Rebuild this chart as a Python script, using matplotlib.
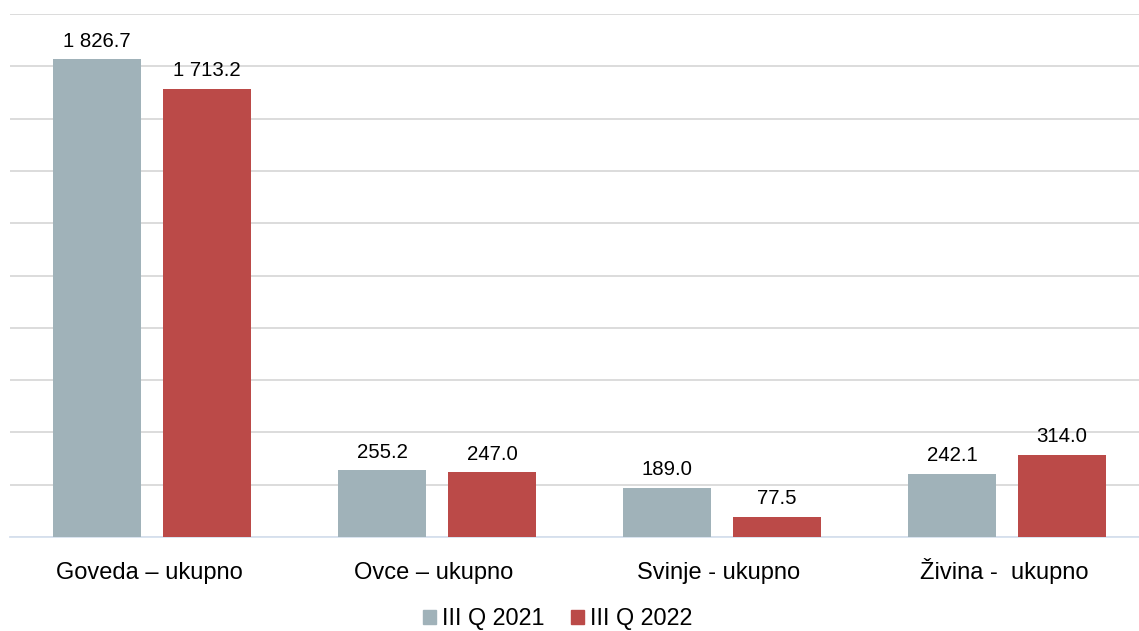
import numpy as np
import matplotlib.pyplot as plt
from matplotlib.patches import Patch
import matplotlib.transforms as mtransforms

plt.rcParams['font.family'] = ['Liberation Sans', 'DejaVu Sans']

# Data
categories = ['Goveda – ukupno', 'Ovce – ukupno', 'Svinje - ukupno', 'Živina -  ukupno']
series_names = ['III Q 2021', 'III Q 2022']
values_2021 = [1826.7, 255.2, 189.0, 242.1]
values_2022 = [1713.2, 247.0, 77.5, 314.0]
colors = ['#a0b2b9', '#bb4a48']


def fmt(v):
    # thousands separated by a space, one decimal
    return f"{v:,.1f}".replace(',', ' ')


fig = plt.figure(figsize=(11.39, 6.31), dpi=100)
ax = fig.add_axes([9.5 / 1139, 1 - 537 / 631, 1 - 9.5 / 1139, (537 - 14) / 631])

x = np.arange(len(categories))
width = 0.309
offset = 0.193

bars1 = ax.bar(x - offset, values_2021, width, color=colors[0], zorder=3)
bars2 = ax.bar(x + offset, values_2022, width, color=colors[1], zorder=3)

for bars, vals in [(bars1, values_2021), (bars2, values_2022)]:
    for b, v in zip(bars, vals):
        ax.annotate(fmt(v), (b.get_x() + b.get_width() / 2, v),
                    xytext=(0, 9), textcoords='offset points',
                    ha='center', va='baseline', fontsize=14.7, color='#000000')

ax.set_xlim(-0.5, -0.5 + 1129.5 / 285)
ax.set_ylim(0, 2000)
ax.set_yticks(np.arange(0, 2001, 200))
ax.yaxis.grid(True, color='#d9d9d9', linewidth=1.3, zorder=0)
ax.set_axisbelow(True)
ax.tick_params(axis='y', left=False, labelleft=False)
ax.set_xticks([])

# category labels on a common baseline, nudged slightly left
trans = mtransforms.blended_transform_factory(ax.transData, fig.transFigure)
trans = trans + mtransforms.ScaledTranslation(-3 / 100, 0, fig.dpi_scale_trans)
for xi, cat in zip(x, categories):
    ax.text(xi, 1 - 579 / 631, cat, transform=trans, ha='center', va='baseline',
            fontsize=17, color='#000000')

for s in ['top', 'right', 'left']:
    ax.spines[s].set_visible(False)
ax.spines['bottom'].set_color('#d6e0ee')
ax.spines['bottom'].set_linewidth(1.3)

handles = [Patch(color=c, label=n) for c, n in zip(colors, series_names)]
fig.legend(handles=handles, loc='center', bbox_to_anchor=(558 / 1139, 1 - 619 / 631),
           ncol=2, frameon=False, fontsize=16.8, handlelength=0.56, handleheight=0.56,
           handletextpad=0.26, columnspacing=1.12)

fig.savefig('out.png', dpi=100)
